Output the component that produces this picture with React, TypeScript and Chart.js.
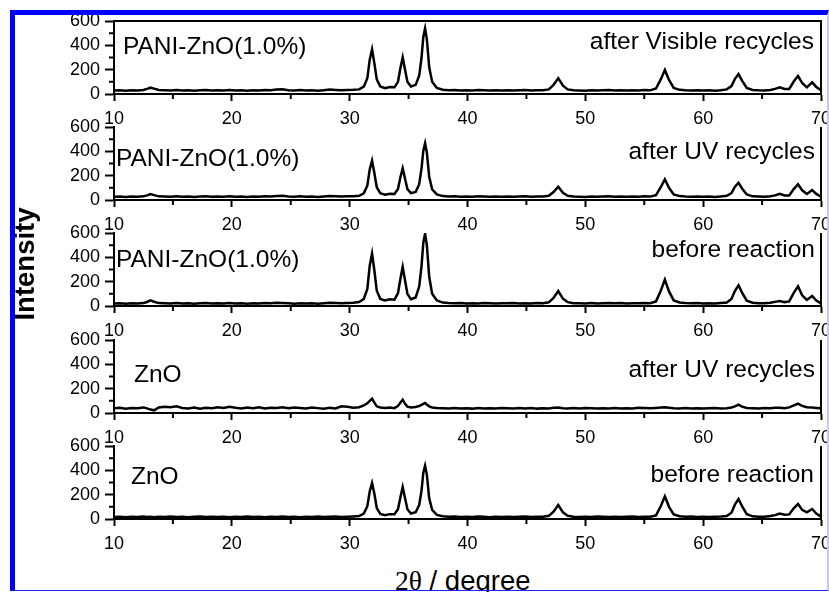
import React, { useEffect, useRef } from "react";
import { Chart, registerables } from "chart.js";

Chart.register(...registerables);

// ---------------- data ----------------
const twoTheta = [
  10, 10.5, 11, 11.5, 12, 12.5, 12.8, 13.1, 13.4, 13.8,
  14.3, 14.8, 15.3, 15.8, 16.3, 16.8, 17.3, 17.8, 18.3, 18.8,
  19.3, 19.8, 20.3, 20.8, 21.3, 21.8, 22.3, 22.8, 23.3, 23.8,
  24.3, 24.8, 25.3, 25.8, 26.3, 26.8, 27.3, 27.8, 28.3, 28.8,
  29.3, 29.8, 30.3, 30.8, 31.2, 31.5, 31.7, 31.9, 32.1, 32.3,
  32.6, 33.0, 33.4, 33.8, 34.1, 34.3, 34.5, 34.7, 34.9, 35.2,
  35.6, 35.9, 36.1, 36.25, 36.4, 36.55, 36.75, 37.0, 37.4, 37.9,
  38.4, 38.9, 39.4, 39.9, 40.4, 40.9, 41.4, 41.9, 42.4, 42.9,
  43.4, 43.9, 44.4, 44.9, 45.4, 45.9, 46.4, 46.9, 47.3, 47.7,
  48.1, 48.5, 49.0, 49.5, 50.0, 50.5, 51.0, 51.5, 52.0, 52.5,
  53.0, 53.5, 54.0, 54.5, 55.0, 55.5, 56.0, 56.4, 56.75, 57.1,
  57.5, 58.0, 58.5, 59.0, 59.5, 60.0, 60.5, 61.0, 61.5, 62.0,
  62.4, 62.7, 63.0, 63.3, 63.7, 64.2, 64.7, 65.2, 65.7, 66.1,
  66.5, 66.9, 67.3, 67.7, 68.05, 68.4, 68.8, 69.25, 69.6, 70.0,
];

const paniAfterVisible = [
  28, 31, 27, 30, 29, 33, 42, 52, 44, 33,
  30, 28, 32, 29, 31, 27, 30, 33, 28, 31,
  29, 32, 28, 30, 27, 31, 29, 33, 30, 36,
  38, 31, 28, 32, 29, 30, 27, 31, 36, 33,
  30, 32, 34, 38, 60, 130, 280, 367, 250, 120,
  62, 48, 58, 55, 100, 210, 302, 200, 100, 62,
  75, 150, 300, 470, 540, 450, 220, 100, 50, 35,
  30, 32, 28, 31, 29, 33, 30, 28, 31, 29,
  31, 28, 30, 32, 29, 31, 30, 38, 75, 130,
  68, 38, 30, 29, 27, 31, 28, 30, 32, 29,
  30, 28, 31, 29, 32, 30, 45, 120, 197, 115,
  50, 34, 30, 28, 31, 29, 30, 27, 31, 38,
  65, 125, 164, 110, 50, 33, 30, 29, 33, 42,
  55, 42, 42, 105, 148, 90, 55, 96, 58, 30,
];

const paniAfterUV = [
  26, 29, 25, 28, 27, 30, 38, 48, 40, 30,
  28, 26, 30, 27, 29, 25, 28, 31, 27, 29,
  27, 30, 26, 28, 25, 29, 27, 31, 28, 33,
  34, 29, 26, 30, 27, 28, 25, 29, 33, 30,
  28, 30, 31, 35, 55, 118, 250, 323, 220, 105,
  55, 44, 52, 50, 90, 185, 260, 175, 90, 56,
  66, 130, 260, 405, 466, 390, 190, 88, 46, 32,
  28, 30, 26, 29, 27, 31, 28, 26, 29, 27,
  29, 26, 28, 30, 27, 29, 28, 35, 66, 110,
  60, 35, 28, 27, 25, 29, 26, 28, 30, 27,
  28, 26, 29, 27, 30, 28, 40, 105, 170, 100,
  45, 32, 28, 26, 29, 27, 28, 25, 29, 34,
  56, 110, 142, 95, 46, 30, 28, 27, 31, 38,
  50, 38, 38, 92, 129, 80, 50, 82, 50, 27,
];

const paniBefore = [
  20, 23, 19, 22, 21, 24, 33, 46, 35, 24,
  22, 20, 24, 21, 23, 19, 22, 25, 21, 23,
  21, 24, 20, 22, 19, 23, 21, 25, 22, 26,
  24, 22, 19, 23, 20, 22, 19, 23, 27, 24,
  22, 25, 27, 32, 58, 140, 330, 431, 290, 125,
  58, 46, 55, 52, 105, 220, 321, 210, 100, 56,
  70, 160, 330, 520, 595, 500, 240, 100, 45, 28,
  24, 22, 25, 21, 23, 20, 24, 22, 21, 23,
  22, 24, 21, 23, 20, 24, 22, 30, 66, 123,
  60, 32, 23, 22, 20, 24, 21, 23, 25, 22,
  24, 21, 23, 22, 25, 23, 38, 125, 217, 120,
  46, 29, 24, 22, 25, 21, 23, 20, 24, 29,
  58, 125, 170, 110, 44, 27, 23, 22, 26, 34,
  41, 32, 38, 110, 162, 88, 50, 82, 45, 22,
];

const znoAfterUV = [
  38, 44, 35, 42, 40, 46, 38, 28, 22, 45,
  52, 48, 55, 42, 38, 45, 36, 43, 39, 47,
  41, 52, 44, 38, 46, 40, 48, 37, 44, 41,
  47, 39, 45, 42, 38, 46, 40, 35, 43, 38,
  55, 52, 44, 48, 62, 80, 100, 117, 85, 55,
  45, 42, 46, 40, 58, 85, 109, 75, 52, 45,
  50, 58, 66, 75, 82, 70, 55, 46, 42, 40,
  38, 42, 37, 40, 36, 41, 38, 40, 37, 42,
  39, 37, 41, 38, 42, 36, 40, 38, 43, 45,
  40, 37, 41, 38, 42, 39, 36, 40, 38, 41,
  37, 40, 38, 44, 41, 39, 42, 45, 48, 44,
  40, 37, 41, 38, 40, 36, 39, 41, 38, 40,
  45, 55, 68, 52, 42, 40, 38, 41, 39, 43,
  44, 40, 46, 62, 76, 58, 48, 46, 42, 38,
];

const znoBefore = [
  16, 19, 15, 18, 17, 20, 16, 19, 15, 18,
  17, 20, 16, 19, 15, 18, 21, 17, 19, 16,
  18, 15, 19, 17, 20, 16, 18, 15, 19, 17,
  20, 16, 18, 15, 19, 17, 21, 16, 18, 20,
  17, 19, 21, 24, 45, 105, 225, 296, 205, 90,
  42, 32, 40, 40, 80, 175, 263, 170, 80, 45,
  55, 115, 235, 380, 438, 365, 170, 75, 34, 22,
  18, 20, 17, 19, 16, 20, 18, 15, 19, 17,
  19, 16, 18, 20, 17, 19, 18, 26, 60, 115,
  55, 26, 18, 17, 19, 16, 20, 18, 17, 19,
  16, 18, 20, 17, 19, 18, 30, 105, 186, 100,
  38, 23, 18, 20, 17, 19, 16, 18, 20, 24,
  52, 120, 164, 105, 40, 22, 19, 18, 24, 32,
  44, 35, 38, 90, 123, 75, 55, 82, 44, 20,
];

const panelSeries = [paniAfterVisible, paniAfterUV, paniBefore, znoAfterUV, znoBefore];
const sampleLabels = ["PANI-ZnO(1.0%)", "PANI-ZnO(1.0%)", "PANI-ZnO(1.0%)", "ZnO", "ZnO"];
const conditionLabels = [
  "after Visible recycles",
  "after UV recycles",
  "before reaction",
  "after UV recycles",
  "before reaction",
];
const xTickValues = [10, 20, 30, 40, 50, 60, 70];
const xMinorTicks = [15, 25, 35, 45, 55, 65];
const yTickValues = [0, 200, 400, 600];
const yMinorTicks = [100, 300, 500];
const yAxisTitle = "Intensity";
const xAxisTitleSymbol = "2\u03b8";
const xAxisTitleRest = " / degree";

// ---------------- layout ----------------
const W = 829;
const H = 592;
const FONT = '"Liberation Sans", Arial, Helvetica, sans-serif';
const PANEL_BOTTOMS = [94, 200, 306, 413, 519];
const PLOT_H = 73;
const PAD_TOP = 12;
const X_AXIS_H = 34;
const CANVAS_H = PAD_TOP + PLOT_H + X_AXIS_H;
const sampleLabelPos = [
  { left: 123, base: 55 },
  { left: 116, base: 166.5 },
  { left: 116, base: 268 },
  { left: 134, base: 382.5 },
  { left: 131, base: 485 },
];
const conditionLabelPos = [
  { right: 814, base: 50 },
  { right: 815, base: 159.5 },
  { right: 815, base: 258 },
  { right: 815, base: 377.5 },
  { right: 814, base: 482.5 },
];
const LABEL_SIZE = 24.5;
const X_TITLE_SIZE = 27.5;

function makeFramePlugin(drawTop: boolean) {
  return {
    id: "panelFrame",
    afterDraw(chart: any) {
      const { ctx, chartArea: a, scales } = chart;
      const xs = scales.x;
      const ys = scales.y;
      ctx.save();
      ctx.strokeStyle = "#000";
      ctx.lineWidth = 2;
      ctx.beginPath();
      ctx.moveTo(a.right, a.top - (drawTop ? 1 : 0));
      ctx.lineTo(a.right, a.bottom + 1);
      if (drawTop) {
        ctx.moveTo(a.left - 1, a.top);
        ctx.lineTo(a.right + 1, a.top);
      }
      ctx.stroke();
      ctx.lineWidth = 2;
      ctx.beginPath();
      for (const v of xMinorTicks) {
        const px = xs.getPixelForValue(v);
        ctx.moveTo(px, a.bottom);
        ctx.lineTo(px, a.bottom + 5);
      }
      for (const v of yMinorTicks) {
        const py = ys.getPixelForValue(v);
        ctx.moveTo(a.left - 5, py);
        ctx.lineTo(a.left, py);
      }
      ctx.stroke();
      ctx.restore();
    },
  };
}

function Panel({ index }: { index: number }) {
  const ref = useRef<HTMLCanvasElement>(null);
  useEffect(() => {
    const canvas = ref.current;
    if (!canvas) return;
    const values = panelSeries[index];
    const points = twoTheta.map((x, i) => ({ x, y: values[i] }));
    const chart = new Chart(canvas, {
      type: "line",
      data: {
        datasets: [
          {
            data: points,
            borderColor: "#000",
            borderWidth: 2.5,
            pointRadius: 0,
            tension: 0,
            fill: false,
          },
        ],
      },
      options: {
        responsive: false,
        maintainAspectRatio: false,
        animation: false,
        layout: { padding: { top: PAD_TOP, right: 8, bottom: 0, left: 0 } },
        plugins: {
          legend: { display: false },
          tooltip: { enabled: false },
          title: { display: false },
        },
        scales: {
          x: {
            type: "linear",
            position: "bottom",
            min: 10,
            max: 70,
            afterBuildTicks: (s: any) => {
              s.ticks = xTickValues.map((v) => ({ value: v }));
            },
            afterFit: (s: any) => {
              s.height = X_AXIS_H;
              s.paddingLeft = 0;
              s.paddingRight = 0;
            },
            grid: {
              display: true,
              drawOnChartArea: false,
              drawTicks: true,
              tickLength: 7,
              tickWidth: 2,
              tickColor: "#000",
            },
            border: { display: true, color: "#000", width: 2 },
            ticks: {
              color: "#000",
              font: { size: 18, family: FONT },
              padding: 7,
              maxRotation: 0,
              autoSkip: false,
            },
          },
          y: {
            type: "linear",
            position: "left",
            min: 0,
            max: 600,
            afterBuildTicks: (s: any) => {
              s.ticks = yTickValues.map((v) => ({ value: v }));
            },
            afterFit: (s: any) => {
              s.width = 114;
              s.paddingTop = 0;
              s.paddingBottom = 0;
            },
            grid: {
              display: true,
              drawOnChartArea: false,
              drawTicks: true,
              tickLength: 9,
              tickWidth: 2,
              tickColor: "#000",
            },
            border: { display: true, color: "#000", width: 2 },
            ticks: {
              color: "#000",
              font: { size: 18, family: FONT },
              padding: 5,
              autoSkip: false,
            },
          },
        },
      },
      plugins: [makeFramePlugin(index === 0)],
    } as any);
    return () => chart.destroy();
  }, [index]);
  const top = PANEL_BOTTOMS[index] - PLOT_H - PAD_TOP;
  return (
    <canvas
      ref={ref}
      width={W}
      height={CANVAS_H}
      style={{ position: "absolute", left: 0, top, width: W, height: CANVAS_H }}
    />
  );
}

export default function App() {
  const asc = 0.8465;
  return (
    <div
      style={{
        position: "absolute",
        left: 0,
        top: 0,
        width: W,
        height: H,
        overflow: "hidden",
        background: "#fff",
        fontFamily: FONT,
        color: "#000",
      }}
    >
      {panelSeries.map((_, i) => (
        <Panel key={i} index={i} />
      ))}
      {sampleLabels.map((t, i) => (
        <div
          key={"s" + i}
          style={{
            position: "absolute",
            left: sampleLabelPos[i].left,
            top: sampleLabelPos[i].base - asc * LABEL_SIZE,
            fontSize: LABEL_SIZE,
            lineHeight: 1,
            whiteSpace: "nowrap",
          }}
        >
          {t}
        </div>
      ))}
      {conditionLabels.map((t, i) => (
        <div
          key={"c" + i}
          style={{
            position: "absolute",
            right: W - conditionLabelPos[i].right,
            top: conditionLabelPos[i].base - asc * LABEL_SIZE,
            fontSize: LABEL_SIZE,
            lineHeight: 1,
            whiteSpace: "nowrap",
          }}
        >
          {t}
        </div>
      ))}
      <div
        style={{
          position: "absolute",
          left: 25,
          top: 263.5,
          transform: "translate(-50%, -50%) rotate(-90deg)",
          fontSize: 27.5,
          fontWeight: "bold",
          lineHeight: 1,
          whiteSpace: "nowrap",
        }}
      >
        {yAxisTitle}
      </div>
      <div
        style={{
          position: "absolute",
          left: 395,
          top: 590 - asc * X_TITLE_SIZE,
          fontSize: X_TITLE_SIZE,
          lineHeight: 1,
          whiteSpace: "nowrap",
        }}
      >
        <span style={{ fontFamily: '"Liberation Serif", "Times New Roman", serif' }}>
          {xAxisTitleSymbol}
        </span>
        <span>{xAxisTitleRest}</span>
      </div>
      <div
        style={{
          position: "absolute",
          left: 10,
          top: 10,
          width: 819,
          height: 581,
          boxSizing: "border-box",
          borderTop: "5px solid #0000ff",
          borderLeft: "5px solid #0000ff",
          borderRight: "2px solid #c8c8f8",
          borderBottom: "1px solid #2020ff",
          pointerEvents: "none",
          zIndex: 5,
        }}
      />
    </div>
  );
}
